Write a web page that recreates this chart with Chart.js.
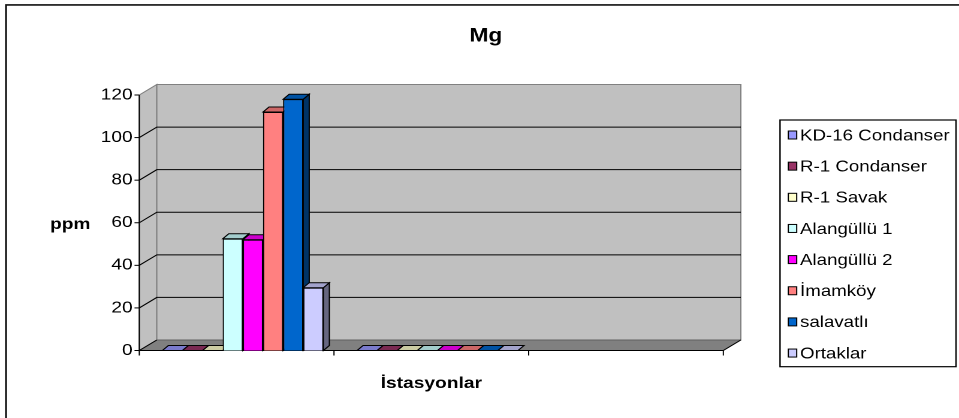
<!DOCTYPE html>
<html>
<head>
<meta charset="utf-8">
<script src="https://cdn.jsdelivr.net/npm/chart.js@4.4.1/dist/chart.umd.min.js"></script>
<style>
  html, body { margin: 0; padding: 0; background: #fff; }
  #mgChart { display: block; }
</style>
</head>
<body>
<canvas id="mgChart" width="800" height="418" style="width:959px;height:418px"></canvas>
<script>
// categories (no labels shown on the axis in the original)
const categories = ['', '', ''];

// series values, ppm
const kd16Condanser = [0, 0, null];
const r1Condanser = [0, 0, null];
const r1Savak = [0, 0, null];
const alangullu1 = [52.5, 0, null];
const alangullu2 = [52, 0, null];
const imamkoy = [112, 0, null];
const salavatli = [118, 0, null];
const ortaklar = [29.5, 0, null];

const seriesNames = ['KD-16 Condanser', 'R-1 Condanser', 'R-1 Savak', 'Alangüllü 1', 'Alangüllü 2', 'İmamköy', 'salavatlı', 'Ortaklar'];
const seriesValues = [kd16Condanser, r1Condanser, r1Savak, alangullu1, alangullu2, imamkoy, salavatli, ortaklar];
const seriesColors = ['#9999FF', '#993366', '#FFFFCC', '#CCFFFF', '#FF00FF', '#FF8080', '#0066CC', '#CCCCFF'];

const yMax = 120;
const yStep = 20;

const FONT = '"Liberation Sans", Arial, sans-serif';

// 3d look
const wallDx = 14.6, wallDy = -10.5;   // depth of walls / floor
const barDx = 5, barDy = -5;           // depth of each column
const barShift = 5.2;                  // columns stand a bit behind the front axis

function shade(hex, f) {
    const n = parseInt(hex.slice(1), 16);
    const r = Math.round(((n >> 16) & 255) * f);
    const g = Math.round(((n >> 8) & 255) * f);
    const b = Math.round((n & 255) * f);
    return 'rgb(' + r + ',' + g + ',' + b + ')';
}

function poly(ctx, pts, fill, stroke) {
    ctx.beginPath();
    ctx.moveTo(pts[0][0], pts[0][1]);
    for (let i = 1; i < pts.length; i++) ctx.lineTo(pts[i][0], pts[i][1]);
    ctx.closePath();
    if (fill) { ctx.fillStyle = fill; ctx.fill(); }
    if (stroke) { ctx.strokeStyle = stroke; ctx.lineWidth = 1; ctx.stroke(); }
}

function line(ctx, pts, color, width) {
    ctx.beginPath();
    ctx.moveTo(pts[0][0], pts[0][1]);
    for (let i = 1; i < pts.length; i++) ctx.lineTo(pts[i][0], pts[i][1]);
    ctx.strokeStyle = color;
    ctx.lineWidth = width || 1;
    ctx.stroke();
}

const excel3d = {
    id: 'excel3d',
    beforeDraw(chart) {
        const ctx = chart.ctx;
        ctx.save();
        // outer frame of the chart object
        line(ctx, [[5, 418], [5, 4.9], [800, 4.9]], '#111', 1.6);

        // title + axis titles
        ctx.fillStyle = '#000';
        ctx.font = 'bold 19px ' + FONT;
        ctx.textAlign = 'center';
        ctx.textBaseline = 'alphabetic';
        ctx.fillText('Mg', 405.3, 41.7);

        ctx.font = 'bold 16px ' + FONT;
        ctx.textAlign = 'left';
        ctx.fillText('ppm', 41.7, 229);
        ctx.restore();
    },
    beforeDatasetsDraw(chart) {
        const {ctx, chartArea: a, scales: {x, y}} = chart;
        const fl = a.left - barShift, fr = a.right - barShift;
        const fb = y.getPixelForValue(0), ft = y.getPixelForValue(yMax);
        ctx.save();
        // left wall, back wall, floor
        poly(ctx, [[fl, fb], [fl, ft], [fl + wallDx, ft + wallDy], [fl + wallDx, fb + wallDy]], '#C0C0C0', '#808080');
        poly(ctx, [[fl + wallDx, ft + wallDy], [fr + wallDx, ft + wallDy], [fr + wallDx, fb + wallDy], [fl + wallDx, fb + wallDy]], '#C0C0C0', '#808080');
        poly(ctx, [[fl, fb], [fr, fb], [fr + wallDx, fb + wallDy], [fl + wallDx, fb + wallDy]], '#808080', null);
        line(ctx, [[fl + wallDx, fb + wallDy], [fr + wallDx, fb + wallDy]], '#606060');
        line(ctx, [[fl, fb], [fl + wallDx, fb + wallDy]], '#000');
        line(ctx, [[fr, fb], [fr + wallDx, fb + wallDy]], '#000');

        // gridlines on left and back wall
        y.ticks.forEach(t => {
            if (t.value <= 0 || t.value >= yMax) return;
            const py = y.getPixelForValue(t.value);
            line(ctx, [[fl, py], [fl + wallDx, py + wallDy], [fr + wallDx, py + wallDy]], '#000');
        });

        // front value axis with tick marks
        line(ctx, [[fl, ft], [fl, fb]], '#000');
        y.ticks.forEach(t => {
            const py = y.getPixelForValue(t.value);
            line(ctx, [[fl - 4, py], [fl, py]], '#000');
        });

        // category axis with tick marks between categories
        line(ctx, [[fl, fb], [fr, fb]], '#000');
        const n = categories.length;
        for (let i = 0; i <= n; i++) {
            const bx = fl + i * (fr - fl) / n;
            line(ctx, [[bx, fb], [bx, fb + 5]], '#000');
        }

        ctx.font = 'bold 16px ' + FONT;
        ctx.fillStyle = '#000';
        ctx.textAlign = 'center';
        ctx.textBaseline = 'alphabetic';
        ctx.fillText('İstasyonlar', (fl + fr) / 2, 388);
        ctx.restore();
    },
    afterDatasetsDraw(chart) {
        const ctx = chart.ctx;
        const metas = chart.data.datasets.map((ds, i) => chart.getDatasetMeta(i));
        ctx.save();
        for (let c = 0; c < categories.length; c++) {
            metas.forEach((meta, d) => {
                const el = meta.data[c];
                const v = chart.data.datasets[d].data[c];
                if (!el || v === null || v === undefined) return;
                const color = seriesColors[d];
                const l = el.x - el.width / 2, r = el.x + el.width / 2;
                const top = Math.min(el.y, el.base), base = Math.max(el.y, el.base);
                el.draw(ctx, chart.chartArea);
                if (base - top > 0.5) {
                    poly(ctx, [[r, top], [r + barDx, top + barDy], [r + barDx, base + barDy], [r, base]], shade(color, 0.5), '#000');
                }
                poly(ctx, [[l, top], [r, top], [r + barDx, top + barDy], [l + barDx, top + barDy]], shade(color, 0.8), '#000');
            });
        }
        ctx.restore();
    },
    afterDraw(chart) {
        const ctx = chart.ctx;
        ctx.save();
        // legend box
        ctx.strokeStyle = '#000';
        ctx.lineWidth = 1.2;
        ctx.strokeRect(650.7, 120, 146.8, 246.7);
        ctx.font = '15.6px ' + FONT;
        ctx.textAlign = 'left';
        ctx.textBaseline = 'middle';
        chart.data.datasets.forEach((ds, i) => {
            const cy = 135 + i * 31.15;
            ctx.fillStyle = ds.backgroundColor;
            ctx.fillRect(657.6, cy - 4, 7, 8);
            ctx.lineWidth = 1;
            ctx.strokeRect(657.6, cy - 4, 7, 8);
            ctx.fillStyle = '#000';
            ctx.fillText(ds.label, 667.4, cy + 1);
        });
        ctx.restore();
    }
};

const ctx = document.getElementById('mgChart').getContext('2d');

new Chart(ctx, {
    type: 'bar',
    data: {
        labels: categories,
        datasets: seriesNames.map((name, i) => ({
            label: name,
            data: seriesValues[i],
            backgroundColor: seriesColors[i],
            borderColor: '#000',
            borderWidth: 1,
            barPercentage: 1,
            categoryPercentage: 0.827
        }))
    },
    options: {
        responsive: false,
        devicePixelRatio: 2,
        animation: false,
        layout: {
            padding: { top: 95, right: 191.4, bottom: 0, left: 0 }
        },
        plugins: {
            legend: { display: false },
            title: { display: false },
            tooltip: { enabled: false }
        },
        scales: {
            x: {
                grid: { display: false },
                border: { display: false },
                ticks: { display: false },
                afterFit: function (scale) {
                    scale.height = 67.5;
                }
            },
            y: {
                min: 0,
                max: yMax,
                grid: { display: false, drawTicks: false },
                border: { display: false },
                ticks: {
                    stepSize: yStep,
                    padding: 10.7,
                    color: '#000',
                    font: { family: FONT, size: 16 }
                },
                afterFit: function (scale) {
                    scale.width = 121.4;
                }
            }
        }
    },
    plugins: [excel3d]
});
</script>
</body>
</html>
